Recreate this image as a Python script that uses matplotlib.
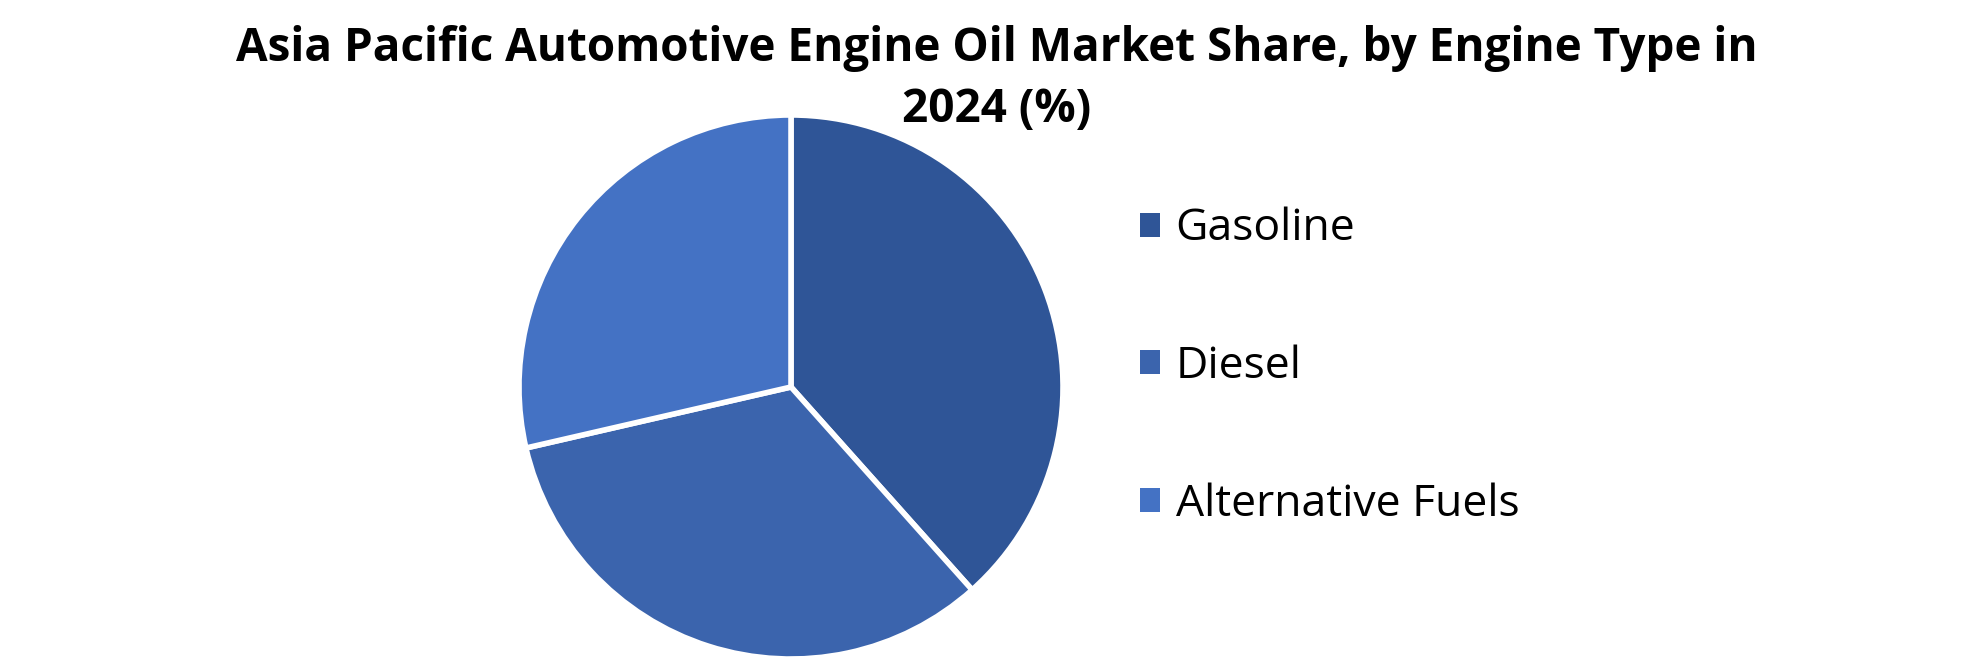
"""
Asia Pacific engine oil share pie
"""

import matplotlib
matplotlib.use('Agg')
import matplotlib.pyplot as plt

labels = ['Gasoline', 'Diesel', 'Alternative Fuels']
shares = [38.4, 33.0, 28.6]
colors = ['#2F5597', '#3B64AD', '#4472C4']

title = 'Asia Pacific Automotive Engine Oil Market Share, by Engine Type in\n2024 (%)'

W, H = 1980, 663
plt.rcParams['font.family'] = ['Open Sans', 'DejaVu Sans']

fig = plt.figure(figsize=(W / 100, H / 100), dpi=100)

# pie centre ~ (791, 387) px, radius ~270 px
ax = fig.add_axes([519 / W, (H - 659) / H, 544 / W, 544 / H])
wedges, _ = ax.pie(shares, colors=colors, startangle=90, counterclock=False,
                   radius=1, wedgeprops=dict(edgecolor='white', linewidth=4))
ax.set_xlim(-1, 1)
ax.set_ylim(-1, 1)
ax.set_aspect('equal')
ax.axis('off')

fig.text(997 / W, 1 - 79 / H, title, ha='center', va='center', fontsize=33,
         fontweight='bold', linespacing=1.4)

leg = fig.legend(wedges, labels, loc='center left', bbox_to_anchor=(1100 / W, 1 - 367 / H),
                 frameon=False, fontsize=32, handlelength=0.45, handleheight=0.45,
                 handletextpad=0.35, labelspacing=2.1)
for h in leg.legend_handles:
    h.set_edgecolor('none')

fig.savefig('out.png', dpi=100)
